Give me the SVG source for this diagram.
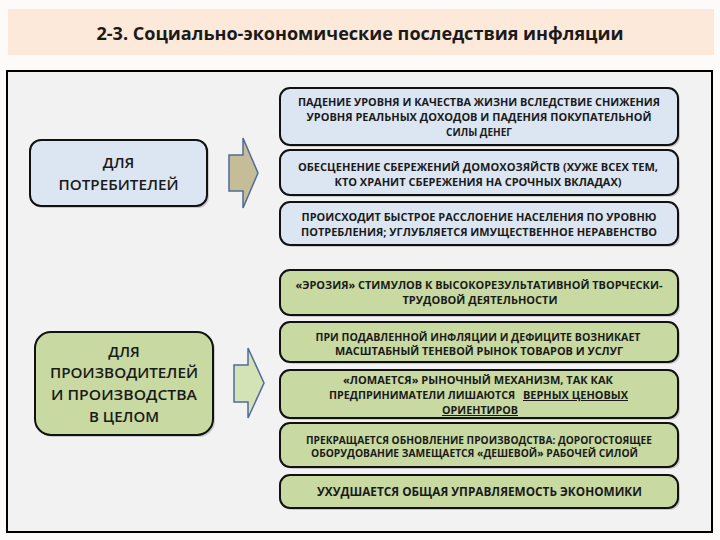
<svg xmlns="http://www.w3.org/2000/svg" width="720" height="540" viewBox="0 0 720 540">
<defs>
<style>
.t{font-family:"Open Sans","Liberation Sans",sans-serif;font-weight:bold;fill:#1a1a1a;text-anchor:middle}
.s{font-size:10px}
.l{font-size:15px;font-weight:600}
.blue{fill:#dce6f2;stroke:#111;stroke-width:2}
.green{fill:#c8d9a2;stroke:#111;stroke-width:2}
.sh{fill:#9a9a9a;opacity:0.45}
.u{text-decoration:underline}
</style>
</defs>
<rect x="0" y="0" width="720" height="540" fill="#fdfbf9"/>
<rect x="8" y="9" width="706" height="46" fill="#fde9d9"/>
<text class="t" x="360" y="40" font-size="18" font-weight="600" textLength="527" lengthAdjust="spacingAndGlyphs">2-3. Социально-экономические последствия инфляции</text>
<rect x="7" y="71" width="705" height="461" fill="#f2f2f2" stroke="#000" stroke-width="2"/>

<g id="consumers">
<rect class="sh" x="32" y="142" width="177" height="66" rx="11"/>
<rect class="blue" x="30" y="140" width="177" height="66" rx="11"/>
<text class="t l" x="118.5" y="168">ДЛЯ</text>
<text class="t l" x="118.5" y="190" textLength="120" lengthAdjust="spacingAndGlyphs">ПОТРЕБИТЕЛЕЙ</text>
</g>

<g id="producers">
<rect class="sh" x="37" y="334" width="178" height="103" rx="16"/>
<rect class="green" x="35" y="332" width="178" height="103" rx="16"/>
<text class="t l" x="124" y="357">ДЛЯ</text>
<text class="t l" x="124" y="378" textLength="148" lengthAdjust="spacingAndGlyphs">ПРОИЗВОДИТЕЛЕЙ</text>
<text class="t l" x="124" y="400" textLength="146" lengthAdjust="spacingAndGlyphs">И ПРОИЗВОДСТВА</text>
<text class="t l" x="124" y="422">В ЦЕЛОМ</text>
</g>

<g id="connectors">
<path d="M229,155 L243,155 L243,138 L258,173 L243,208 L243,191 L229,191 Z" fill="#c4bd97" stroke="#4f6b9a" stroke-width="1.5"/>
<path d="M234,365 L248,365 L248,348 L264,383 L248,418 L248,402 L234,402 Z" fill="#d4e3b5" stroke="#4f6b9a" stroke-width="1.5"/>
</g>

<g id="c1">
<rect class="sh" x="282" y="90" width="398" height="57" rx="10"/>
<rect class="blue" x="280" y="88" width="398" height="57" rx="10"/>
<text class="t s" x="479" y="106" textLength="362" lengthAdjust="spacingAndGlyphs">ПАДЕНИЕ УРОВНЯ И КАЧЕСТВА ЖИЗНИ ВСЛЕДСТВИЕ СНИЖЕНИЯ</text>
<text class="t s" x="479" y="121" textLength="345" lengthAdjust="spacingAndGlyphs">УРОВНЯ РЕАЛЬНЫХ ДОХОДОВ И ПАДЕНИЯ ПОКУПАТЕЛЬНОЙ</text>
<text class="t s" x="479" y="136">СИЛЫ ДЕНЕГ</text>
</g>
<g id="c2">
<rect class="sh" x="282" y="152" width="398" height="45" rx="10"/>
<rect class="blue" x="280" y="150" width="398" height="45" rx="10"/>
<text class="t s" x="478" y="171" textLength="360" lengthAdjust="spacingAndGlyphs">ОБЕСЦЕНЕНИЕ СБЕРЕЖЕНИЙ ДОМОХОЗЯЙСТВ (ХУЖЕ ВСЕХ ТЕМ,</text>
<text class="t s" x="478" y="186" textLength="287" lengthAdjust="spacingAndGlyphs">КТО ХРАНИТ СБЕРЕЖЕНИЯ НА СРОЧНЫХ ВКЛАДАХ)</text>
</g>
<g id="c3">
<rect class="sh" x="282" y="204" width="398" height="43" rx="10"/>
<rect class="blue" x="280" y="202" width="398" height="43" rx="10"/>
<text class="t s" x="479" y="221" textLength="355" lengthAdjust="spacingAndGlyphs">ПРОИСХОДИТ БЫСТРОЕ РАССЛОЕНИЕ НАСЕЛЕНИЯ ПО УРОВНЮ</text>
<text class="t s" x="479" y="236" textLength="356" lengthAdjust="spacingAndGlyphs">ПОТРЕБЛЕНИЯ; УГЛУБЛЯЕТСЯ ИМУЩЕСТВЕННОЕ НЕРАВЕНСТВО</text>
</g>

<g id="p1">
<rect class="sh" x="282" y="272" width="398" height="45" rx="10"/>
<rect class="green" x="280" y="270" width="398" height="45" rx="10"/>
<text class="t s" x="479" y="289" textLength="367" lengthAdjust="spacingAndGlyphs">«ЭРОЗИЯ» СТИМУЛОВ К ВЫСОКОРЕЗУЛЬТАТИВНОЙ ТВОРЧЕСКИ-</text>
<text class="t s" x="480" y="304" textLength="155" lengthAdjust="spacingAndGlyphs">ТРУДОВОЙ ДЕЯТЕЛЬНОСТИ</text>
</g>
<g id="p2">
<rect class="sh" x="282" y="324" width="398" height="40" rx="10"/>
<rect class="green" x="280" y="322" width="398" height="40" rx="10"/>
<text class="t s" x="478" y="341" textLength="325" lengthAdjust="spacingAndGlyphs">ПРИ ПОДАВЛЕННОЙ ИНФЛЯЦИИ И ДЕФИЦИТЕ ВОЗНИКАЕТ</text>
<text class="t s" x="479" y="355" textLength="288" lengthAdjust="spacingAndGlyphs">МАСШТАБНЫЙ ТЕНЕВОЙ РЫНОК ТОВАРОВ И УСЛУГ</text>
</g>
<g id="p3">
<rect class="sh" x="282" y="372" width="398" height="48" rx="10"/>
<rect class="green" x="280" y="370" width="398" height="48" rx="10"/>
<text class="t s" x="478" y="384" textLength="270" lengthAdjust="spacingAndGlyphs">«ЛОМАЕТСЯ» РЫНОЧНЫЙ МЕХАНИЗМ, ТАК КАК</text>
<text class="t s" x="329" y="399" style="text-anchor:start"><tspan textLength="189" lengthAdjust="spacingAndGlyphs">ПРЕДПРИНИМАТЕЛИ ЛИШАЮТСЯ </tspan><tspan class="u" x="523" textLength="105" lengthAdjust="spacingAndGlyphs">ВЕРНЫХ ЦЕНОВЫХ</tspan></text>
<text class="t s u" x="480" y="414" textLength="76" lengthAdjust="spacingAndGlyphs">ОРИЕНТИРОВ</text>
</g>
<g id="p4">
<rect class="sh" x="282" y="425" width="398" height="44" rx="10"/>
<rect class="green" x="280" y="423" width="398" height="44" rx="10"/>
<text class="t s" x="479" y="444" textLength="346" lengthAdjust="spacingAndGlyphs">ПРЕКРАЩАЕТСЯ ОБНОВЛЕНИЕ ПРОИЗВОДСТВА: ДОРОГОСТОЯЩЕЕ</text>
<text class="t s" x="474.5" y="457" textLength="327" lengthAdjust="spacingAndGlyphs">ОБОРУДОВАНИЕ ЗАМЕЩАЕТСЯ «ДЕШЕВОЙ» РАБОЧЕЙ СИЛОЙ</text>
</g>
<g id="p5">
<rect class="sh" x="282" y="477" width="398" height="33" rx="10"/>
<rect class="green" x="280" y="475" width="398" height="33" rx="10"/>
<text class="t" x="479.5" y="496" font-size="11.5" textLength="325" lengthAdjust="spacingAndGlyphs">УХУДШАЕТСЯ ОБЩАЯ УПРАВЛЯЕМОСТЬ ЭКОНОМИКИ</text>
</g>
</svg>
